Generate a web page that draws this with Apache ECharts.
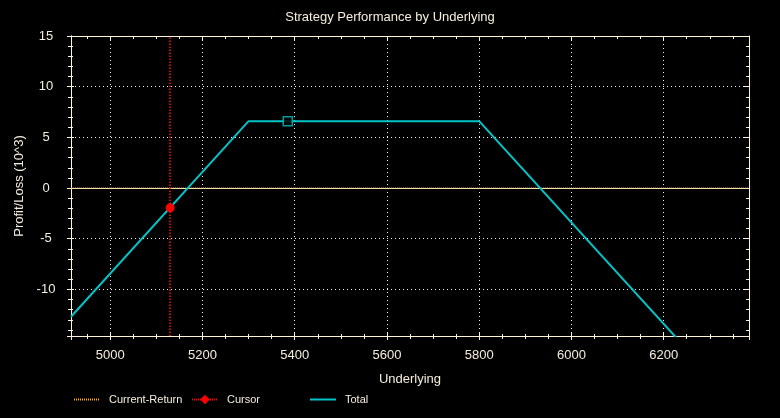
<!DOCTYPE html>
<html><head><meta charset="utf-8">
<script src="https://cdn.jsdelivr.net/npm/echarts@6/dist/echarts.min.js"></script>
<style>html,body{margin:0;padding:0;background:#000;}#c{width:780px;height:418px;}</style>
</head><body><div id="c"></div>
<script>
// ---- data ----
const xRange = [4915, 6385];
const yRange = [-14.6, 15];
const totalX = [4915, 5300, 5800, 6240];
const totalY = [-12.7, 6.6, 6.6, -15.4];
const currentReturnX = [4915, 6385];
const currentReturnY = [0, 0];
const cursorX = [5130];
const cursorY = [-1.95];
const markerX = [5385];
const markerY = [6.6];

const pairs = (xs, ys) => xs.map((x, i) => [x, ys[i]]);

const cream = '#FFF3DA';
const txt = '#F6EEDD';
const font = 'Liberation Sans';
const cyan = '#00C4C8';

function xAx(o) {
  return Object.assign({
    type: 'value', min: xRange[0], max: xRange[1], splitNumber: 7,
    axisLine: { show: true, onZero: false, lineStyle: { color: cream, width: 1 } },
    axisTick: { show: true, inside: false, length: 4, lineStyle: { color: cream } },
    minorTick: { show: true, splitNumber: 4, length: 3, lineStyle: { color: cream } },
    axisLabel: { show: false },
    splitLine: { show: false }
  }, o);
}
function yAx(o) {
  return Object.assign({
    type: 'value', min: yRange[0], max: yRange[1], splitNumber: 6,
    axisLine: { show: true, onZero: false, lineStyle: { color: cream, width: 1 } },
    axisTick: { show: true, inside: false, length: 4, lineStyle: { color: cream } },
    minorTick: { show: true, splitNumber: 5, length: 3, lineStyle: { color: cream } },
    axisLabel: { show: false },
    splitLine: { show: false }
  }, o);
}
const legTxt = { color: txt, fontFamily: font, fontSize: 11, padding: [0, 0, 0, 4] };
const legBase = { top: 394, itemWidth: 26, itemHeight: 12, padding: 0, textStyle: legTxt };

const chart = echarts.init(document.getElementById('c'), null, { renderer: 'canvas' });
chart.setOption({
  backgroundColor: '#000',
  animation: false,
  title: {
    text: 'Strategy Performance by Underlying', left: 'center', top: 11, padding: 0,
    textStyle: { color: txt, fontFamily: font, fontSize: 13, fontWeight: 'normal' }
  },
  grid: { left: 71, right: 31, top: 36, bottom: 82 },
  xAxis: [
    xAx({
      position: 'bottom',
      name: 'Underlying', nameLocation: 'middle', nameGap: 37,
      nameTextStyle: { color: txt, fontFamily: font, fontSize: 13 },
      axisLabel: { show: true, color: txt, fontFamily: font, fontSize: 13, margin: 13, showMinLabel: false, showMaxLabel: false,
        formatter: v => String(v) },
      splitLine: { show: true, lineStyle: { color: '#F0F0F0', type: [1, 3], width: 1 } }
    }),
    xAx({ position: 'bottom', axisTick: { show: true, inside: true, length: 4, lineStyle: { color: cream } }, minorTick: { show: true, splitNumber: 4, length: 2, lineStyle: { color: cream } } }),
    xAx({ position: 'top', axisTick: { show: true, inside: true, length: 5, lineStyle: { color: cream } }, minorTick: { show: true, splitNumber: 4, length: 3, lineStyle: { color: cream } } })
  ],
  yAxis: [
    yAx({
      position: 'left',
      name: 'Profit/Loss (10^3)', nameLocation: 'middle', nameGap: 45, nameRotate: 90,
      nameTextStyle: { color: txt, fontFamily: font, fontSize: 13 },
      axisLabel: { show: true, color: txt, fontFamily: font, fontSize: 13, margin: 25, align: 'center', showMinLabel: false, showMaxLabel: true,
        formatter: v => String(v) },
      splitLine: { show: true, lineStyle: { color: '#F0F0F0', type: [1, 3], width: 1 } }
    }),
    yAx({ position: 'left', axisTick: { show: true, inside: true, length: 3, lineStyle: { color: cream } }, minorTick: { show: true, splitNumber: 5, length: 2, lineStyle: { color: cream } } }),
    yAx({ position: 'right', axisTick: { show: true, inside: true, length: 5, lineStyle: { color: cream } }, minorTick: { show: true, splitNumber: 5, length: 3, lineStyle: { color: cream } } })
  ],
  legend: [
    Object.assign({ data: [{ name: 'Current-Return', itemStyle: { opacity: 0 } }], left: 73 }, legBase),
    Object.assign({ data: ['Cursor'], left: 191 }, legBase),
    Object.assign({ data: [{ name: 'Total', itemStyle: { opacity: 0 } }], left: 309 }, legBase)
  ],
  series: [
    {
      name: 'Current-Return', type: 'line', xAxisIndex: 0, yAxisIndex: 0,
      data: pairs(currentReturnX, currentReturnY), symbol: 'none', z: 3,
      lineStyle: { color: '#FFA81C', width: 1, type: [1, 1] }, itemStyle: { color: '#FFA81C' },
      markLine: {
        silent: true, symbol: 'none', label: { show: false }, z: 2,
        lineStyle: { color: cream, width: 1, type: 'solid' },
        data: [{ yAxis: currentReturnY[0] }]
      }
    },
    {
      name: 'Cursor', type: 'line', xAxisIndex: 0, yAxisIndex: 0,
      data: [], symbol: 'diamond', symbolSize: 10,
      lineStyle: { color: '#FF0000', width: 1, type: [1, 1] }, itemStyle: { color: '#FF0000' },
      markLine: {
        silent: true, symbol: 'none', label: { show: false },
        lineStyle: { color: '#FF1010', width: 1.5, type: [1.5, 1.5] },
        data: [{ xAxis: cursorX[0] }]
      }
    },
    {
      name: 'Total', type: 'line', xAxisIndex: 0, yAxisIndex: 0,
      data: pairs(totalX, totalY), symbol: 'none', z: 4,
      lineStyle: { color: cyan, width: 2 }, itemStyle: { color: cyan }
    },
    {
      name: 'Cursor', type: 'line', xAxisIndex: 0, yAxisIndex: 0, z: 6,
      data: pairs(cursorX, cursorY), symbol: 'circle', symbolSize: 9, showSymbol: true,
      lineStyle: { width: 0 }, itemStyle: { color: '#FF0000' }
    },
    {
      name: 'Marker', type: 'scatter', xAxisIndex: 0, yAxisIndex: 0, z: 5,
      data: pairs(markerX, markerY), symbol: 'rect', symbolSize: 9,
      itemStyle: { color: '#000', borderColor: cyan, borderWidth: 1.5 }
    }
  ]
});
</script></body></html>
